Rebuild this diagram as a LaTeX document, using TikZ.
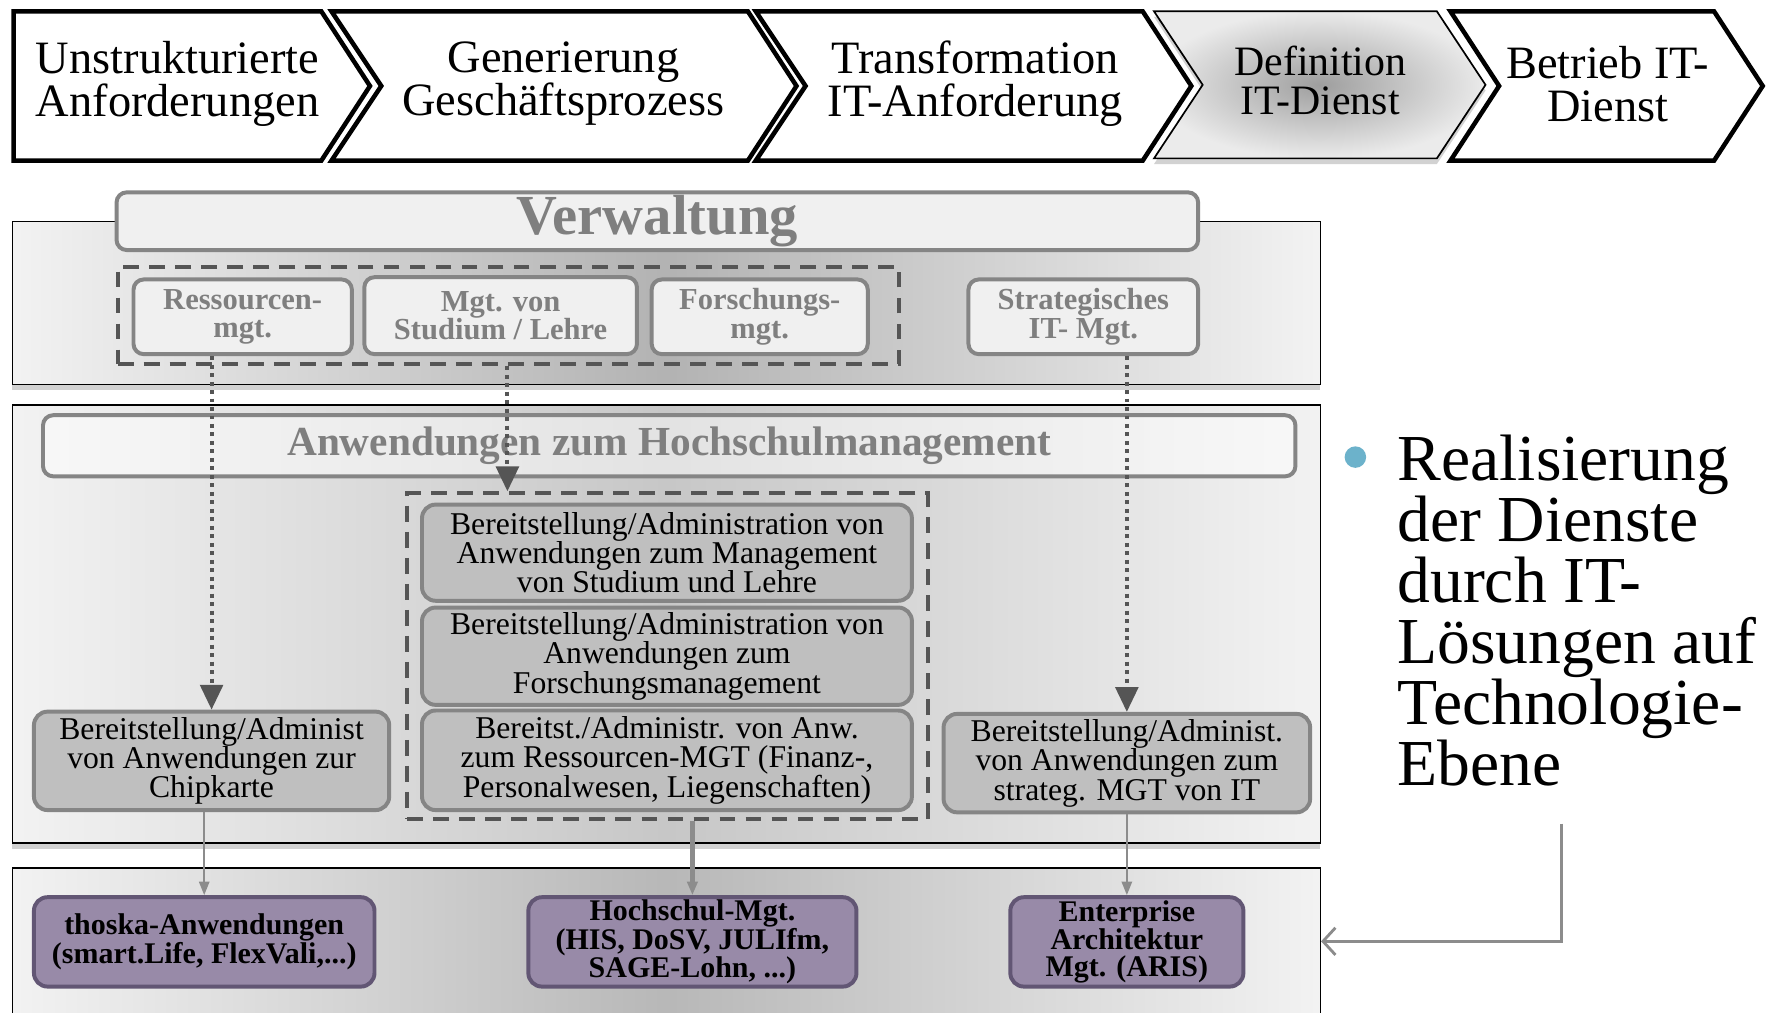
\documentclass[tikz,border=0pt]{standalone}
\usepackage{fontspec}
\setmainfont{Liberation Serif}
\usetikzlibrary{arrows.meta,shadows,calc}
\definecolor{boxborder}{HTML}{858585}
\definecolor{graytext}{HTML}{7F7F7F}
\definecolor{dashcol}{HTML}{555555}
\definecolor{purplefill}{RGB}{152,138,168}
\definecolor{purpleborder}{RGB}{98,86,116}
\definecolor{bulletblue}{RGB}{108,178,203}
\begin{document}
\begin{tikzpicture}[x=1pt,y=-1pt,
  chev/.style={draw=black, line width=4pt, fill=white, line join=miter, miter limit=10},
  chevtext/.style={align=center, font=\fontsize{41}{38}\selectfont, inner sep=0},
  panel/.style={draw=black, line width=1.3pt, left color=black!5, right color=black!5, middle color=black!30, inner sep=0,
     drop shadow={shadow xshift=0pt, shadow yshift=-5pt, opacity=0.35}},
  hdr/.style={draw=boxborder, line width=3.5pt, rounded corners=9pt, fill=black!6, text=graytext, inner sep=0},
  gbox/.style={draw=boxborder, line width=3.5pt, rounded corners=9pt, fill=black!6, text=graytext,
     font=\bfseries\fontsize{27}{25}\selectfont, align=center, inner sep=0},
  abox/.style={draw=boxborder, line width=3.5pt, rounded corners=12pt, fill=black!25,
     font=\fontsize{28}{26}\selectfont, align=center, inner sep=0},
  pbox/.style={draw=purpleborder, line width=3.5pt, rounded corners=12pt, fill=purplefill,
     font=\bfseries\fontsize{26.5}{24}\selectfont, align=center, inner sep=0},
  dgroup/.style={draw=dashcol, line width=3.5pt, dash pattern=on 14pt off 9pt, inner sep=0},
  dotarrow/.style={draw=dashcol, line width=3.5pt, dash pattern=on 3.5pt off 4pt, -{Triangle[width=20pt,length=22pt]}},
  solarrow/.style={draw=black!45, line width=2pt, -{Triangle[width=9pt,length=12pt]}}
]
\useasboundingbox (0,0) rectangle (1568,895);
\fill[white] (0,0) rectangle (1568,895);

% process chevrons
\path[chev] (12,10) -- (284,10) -- (327,76) -- (284,142) -- (12,142) -- cycle;
\node[chevtext] (c1) at (157,74) {Unstrukturierte\\Anforderungen};
\path[chev] (293,10) -- (661,10) -- (704,76) -- (661,142) -- (293,142) -- (337,76) -- cycle;
\node[chevtext] (c2) at (498,74) {Generierung\\Geschäftsprozess};
\path[chev] (668,10) -- (1010,10) -- (1053,76) -- (1010,142) -- (668,142) -- (712,76) -- cycle;
\node[chevtext] (c3) at (862,74) {Transformation\\IT-Anforderung};
\path[draw=black, line width=1.5pt, line join=miter, inner color=black!38, outer color=black!8,
  drop shadow={shadow xshift=0pt, shadow yshift=-5pt, opacity=0.35}]
  (1020,10) -- (1270,10) -- (1313,75) -- (1270,140) -- (1020,140) -- (1063,75) -- cycle;
\node[chevtext, font=\fontsize{37}{34.5}\selectfont] (c4) at (1167,71) {Definition\\IT-Dienst};
\path[chev] (1282,10) -- (1515,10) -- (1558,76) -- (1515,142) -- (1282,142) -- (1325,76) -- cycle;
\node[chevtext] (c5) at (1421,74) {Betrieb IT-\\Dienst};

% panels
\node[panel, minimum width=1156pt, minimum height=144pt] (p1) at (589,268) {};
\node[panel, middle color=black!22, minimum width=1156pt, minimum height=387pt] (p2) at (589,551.5) {};
\node[panel, middle color=black!28, minimum width=1156pt, minimum height=150pt] (p3) at (589,842) {};

% headers
\node[hdr, minimum width=956pt, minimum height=51pt, font=\bfseries\fontsize{50}{50}\selectfont] (verw) at (581,195.5) {Verwaltung};
\node[hdr, fill=white, fill opacity=0.5, text opacity=1, minimum width=1107pt, minimum height=54pt,
  font=\bfseries\fontsize{36.5}{36.5}\selectfont] (anw) at (591.5,394) {Anwendungen zum Hochschulmanagement};

% dashed groups
\node[dgroup, minimum width=691pt, minimum height=86pt] (g1) at (449.5,279) {};
\node[dgroup, minimum width=460pt, minimum height=288pt] (g2) at (590,580) {};

% Verwaltung boxes
\node[gbox, minimum width=193pt, minimum height=66pt] (ress) at (214.5,280) {Ressourcen-\\mgt.};
\node[gbox, minimum width=241pt, minimum height=68pt] (mgt) at (442.5,279) {Mgt. von\\Studium / Lehre};
\node[gbox, minimum width=191pt, minimum height=66pt] (fors) at (671.5,280) {Forschungs-\\mgt.};
\node[gbox, minimum width=203pt, minimum height=66pt] (sit) at (957.5,280) {Strategisches\\IT- Mgt.};

% application boxes
\node[abox, minimum width=433pt, minimum height=85pt] (ba) at (589.5,488.5) {Bereitstellung/Administration von\\Anwendungen zum Management\\von Studium und Lehre};
\node[abox, minimum width=433pt, minimum height=86pt] (bb) at (589.5,580) {Bereitstellung/Administration von\\Anwendungen zum\\Forschungsmanagement};
\node[abox, minimum width=433pt, minimum height=88pt] (bc) at (589.5,672) {Bereitst./Administr. von Anw.\\zum Ressourcen-MGT (Finanz-,\\Personalwesen, Liegenschaften)};
\node[abox, minimum width=314pt, minimum height=87pt] (chip) at (187,672.5) {Bereitstellung/Administ\\von Anwendungen zur\\Chipkarte};
\node[abox, minimum width=324pt, minimum height=87pt] (strat) at (996,674.5) {Bereitstellung/Administ.\\von Anwendungen zum\\strateg. MGT von IT};

% technology boxes
\node[pbox, minimum width=301pt, minimum height=79pt] (thoska) at (180.5,832.5) {thoska-Anwendungen\\(smart.Life, FlexVali,...)};
\node[pbox, minimum width=290pt, minimum height=79pt] (hs) at (612,832.5) {Hochschul-Mgt.\\(HIS, DoSV, JULIfm,\\SAGE-Lohn, ...)};
\node[pbox, minimum width=206pt, minimum height=79pt] (ent) at (996,832.5) {Enterprise\\Architektur\\Mgt. (ARIS)};

% connectors
\draw[dotarrow] (ress.south -| chip.north) -- (chip.north);
\draw[dotarrow] ([xshift=6pt]g1.south -| mgt.south) -- ([xshift=6pt]g2.north -| mgt.south);
\draw[dotarrow] (sit.south -| strat.north) -- (strat.north);
\draw[solarrow] (chip.south -| thoska.north) -- (thoska.north);
\draw[solarrow, line width=4pt] (g2.south -| hs.north) -- (hs.north);
\draw[solarrow] (strat.south) -- (ent.north);

% bullet text
\node[circle, fill=bulletblue, minimum size=19pt, inner sep=0] (bul) at (1198,404) {};
\node[anchor=north west, inner sep=0, align=left, font=\fontsize{58}{54}\selectfont] (rtext) at (1235,384)
  {Realisierung\\der Dienste\\durch IT-\\Lösungen auf\\Technologie-\\Ebene};
\coordinate (astart) at (1380,728);
\draw[black!45, line width=2.5pt, -{Straight Barb[width=24pt,length=11pt]}] (astart) |- ([yshift=10pt]p3.east);
\end{tikzpicture}
\end{document}
